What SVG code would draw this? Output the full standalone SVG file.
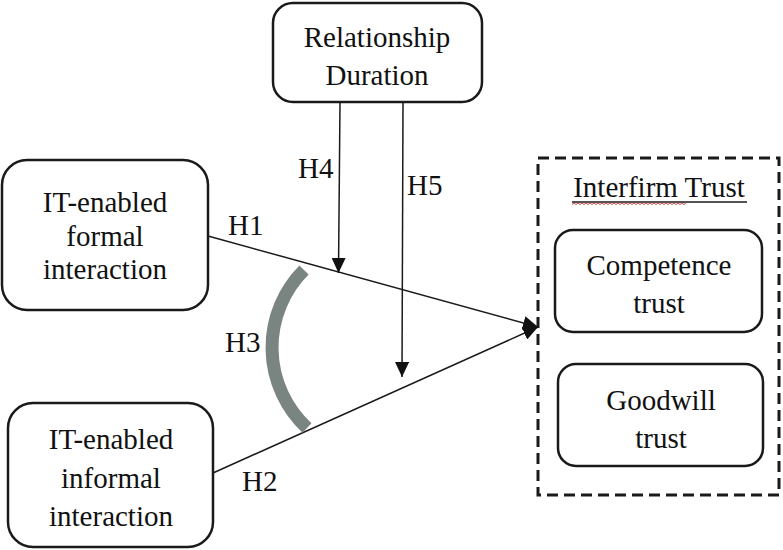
<svg xmlns="http://www.w3.org/2000/svg" width="783" height="550" viewBox="0 0 783 550">
  <defs>
    <style>
      .box { fill: #ffffff; stroke: #1a1a1a; stroke-width: 2.5; }
      text { font-family: 'Liberation Serif', 'Times New Roman', serif; font-size: 29px; fill: #111111; }
      .lbl { text-anchor: middle; }
      .conn { fill: none; stroke: #1a1a1a; stroke-width: 1.5; }
    </style>
    <marker id="arrow" markerUnits="userSpaceOnUse" markerWidth="15" markerHeight="14" refX="15" refY="7" orient="auto">
      <path d="M0,0 L15,7 L0,14 z" fill="#111111"/>
    </marker>
  </defs>
  <rect width="783" height="550" fill="#ffffff"/>

  <g id="trust-container">
    <rect x="538" y="158" width="241" height="337" fill="none" stroke="#1a1a1a" stroke-width="3" stroke-dasharray="11,6"/>
    <text class="lbl" x="659" y="197">Interfirm Trust</text>
    <line x1="572" y1="202" x2="747" y2="202" stroke="#1a1a1a" stroke-width="1.5"/>
    <path d="M572,204.5 l2,-1.5 l2,1.5 l2,-1.5 l2,1.5 l2,-1.5 l2,1.5 l2,-1.5 l2,1.5 l2,-1.5 l2,1.5 l2,-1.5 l2,1.5 l2,-1.5 l2,1.5 l2,-1.5 l2,1.5 l2,-1.5 l2,1.5 l2,-1.5 l2,1.5 l2,-1.5 l2,1.5 l2,-1.5 l2,1.5 l2,-1.5 l2,1.5 l2,-1.5 l2,1.5 l2,-1.5 l2,1.5 l2,-1.5 l2,1.5 l2,-1.5 l2,1.5 l2,-1.5 l2,1.5 l2,-1.5 l2,1.5 l2,-1.5 l2,1.5 l2,-1.5 l2,1.5 l2,-1.5 l2,1.5 l2,-1.5 l2,1.5 l2,-1.5 l2,1.5 l2,-1.5 l2,1.5 l2,-1.5 l2,1.5 l2,-1.5 l2,1.5 l2,-1.5 l2,1.5 l2,-1.5" fill="none" stroke="#cc3333" stroke-width="0.9"/>
  </g>

  <g id="relationship-duration">
    <rect class="box" x="273" y="3" width="209" height="99" rx="20" ry="20"/>
    <text class="lbl" x="377" y="47">Relationship</text>
    <text class="lbl" x="377" y="85">Duration</text>
  </g>

  <g id="formal-interaction">
    <rect class="box" x="2" y="160" width="206" height="150" rx="25" ry="25"/>
    <text class="lbl" x="105" y="212">IT-enabled</text>
    <text class="lbl" x="105" y="246">formal</text>
    <text class="lbl" x="105" y="279">interaction</text>
  </g>

  <g id="informal-interaction">
    <rect class="box" x="8" y="403" width="205" height="144" rx="25" ry="25"/>
    <text class="lbl" x="111" y="449">IT-enabled</text>
    <text class="lbl" x="111" y="488">informal</text>
    <text class="lbl" x="111" y="526">interaction</text>
  </g>

  <g id="competence-trust">
    <rect class="box" x="555" y="230" width="207" height="102" rx="18" ry="18"/>
    <text class="lbl" x="659" y="275">Competence</text>
    <text class="lbl" x="659" y="313">trust</text>
  </g>

  <g id="goodwill-trust">
    <rect class="box" x="558" y="364" width="205" height="102" rx="18" ry="18"/>
    <text class="lbl" x="661" y="410">Goodwill</text>
    <text class="lbl" x="661" y="448">trust</text>
  </g>

  <g id="connectors">
    <line class="conn" x1="208" y1="236" x2="538" y2="327" marker-end="url(#arrow)"/>
    <line class="conn" x1="213" y1="473" x2="538" y2="327" marker-end="url(#arrow)"/>
    <line class="conn" x1="340" y1="102" x2="338.5" y2="273" marker-end="url(#arrow)"/>
    <line class="conn" x1="403" y1="102" x2="402" y2="377" marker-end="url(#arrow)"/>
    <path d="M304,270 A110,110 0 0 0 307,428" fill="none" stroke="#7a8481" stroke-width="13"/>
    <text x="228" y="235">H1</text>
    <text x="242" y="491">H2</text>
    <text x="225" y="352">H3</text>
    <text x="298" y="178">H4</text>
    <text x="407" y="195">H5</text>
  </g>
</svg>
